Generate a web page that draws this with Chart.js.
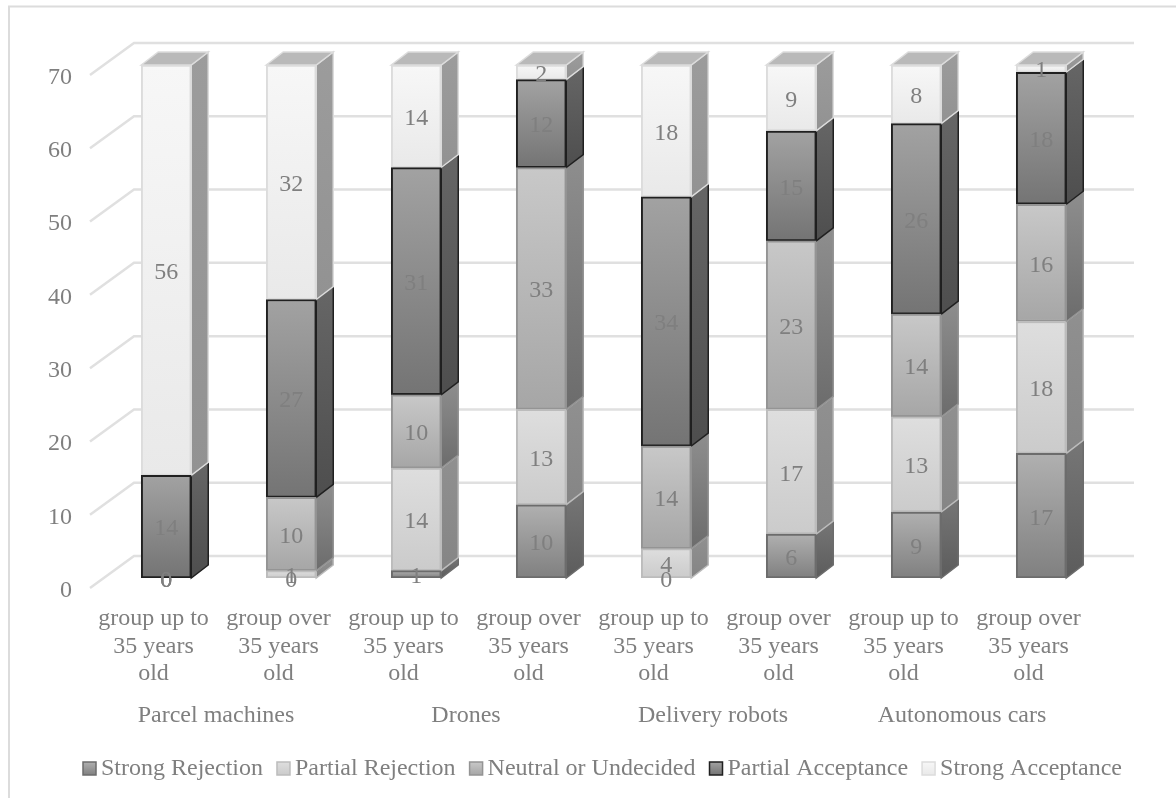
<!DOCTYPE html>
<html>
<head>
<meta charset="utf-8">
<style>html,body{margin:0;padding:0;background:#fff}canvas{display:block}</style>
<script src="https://cdn.jsdelivr.net/npm/chart.js@4/dist/chart.umd.min.js"></script>
</head>
<body>
<canvas id="c" width="1176" height="798"></canvas>
<script>
const categories = [
  ["group up to","35 years","old"],["group over","35 years","old"],
  ["group up to","35 years","old"],["group over","35 years","old"],
  ["group up to","35 years","old"],["group over","35 years","old"],
  ["group up to","35 years","old"],["group over","35 years","old"]
];
const groups = ["Parcel machines","Drones","Delivery robots","Autonomous cars"];
const groupCentres = [216,466,713,962];
const seriesNames = ["Strong Rejection","Partial Rejection","Neutral or Undecided","Partial Acceptance","Strong Acceptance"];
const strongRejection  = [0,0,1,10,0,6,9,17];
const partialRejection = [0,1,14,13,4,17,13,18];
const neutral          = [0,10,10,33,14,23,14,16];
const partialAcceptance= [14,27,31,12,34,15,26,18];
const strongAcceptance = [56,32,14,2,18,9,8,1];
const allSeries = [strongRejection,partialRejection,neutral,partialAcceptance,strongAcceptance];

const FRONT = [["#b0b0b0","#808080"],["#dedede","#cbcbcb"],["#c8c8c8","#a6a6a6"],["#a2a2a2","#747474"],["#f7f7f7","#e9e9e9"]];
const SIDE  = [["#767676","#5c5c5c"],["#909090","#858585"],["#8e8e8e","#6c6c6c"],["#666666","#4e4e4e"],["#9c9c9c","#929292"]];
const EDGE  = ["#6c6c6c","#bcbcbc","#949494","#202020","#dcdcdc"];
const TOPFACE = "#b9b9b9";
const TEXT = "#7f7f7f";
const FONT = "Liberation Serif";
const FS = 24;
const DEPTH_X = 17, DEPTH_Y = 13;      // bar extrusion
const SHIFT_X = 13.75, SHIFT_Y = 10;   // bars stand this far inside the floor
const WALL_X = 44, WALL_Y = 32;        // back wall offset
const TEXT_NUDGE = 2.5;                // em-box middle to digit middle

function grad(ctx, y0, y1, pair){
  const g = ctx.createLinearGradient(0,y0,0,y1);
  g.addColorStop(0,pair[0]); g.addColorStop(1,pair[1]);
  return g;
}
function segBounds(chart, s, i){
  let below = 0;
  for(let k=0;k<s;k++) below += allSeries[k][i];
  const y = chart.scales.y;
  return [y.getPixelForValue(below+allSeries[s][i]), y.getPixelForValue(below)];
}

const scene = {
  id:'scene',
  beforeDraw(chart){
    const c = chart.ctx;
    c.save();
    c.fillStyle='#fff'; c.fillRect(0,0,chart.width,chart.height);
    c.strokeStyle='#dcdcdc'; c.lineWidth=2;
    c.beginPath(); c.moveTo(9,798); c.lineTo(9,6.5); c.lineTo(1176,6.5); c.stroke();
    c.restore();
  },
  beforeDatasetsDraw(chart){
    const c = chart.ctx, ys = chart.scales.y, a = chart.chartArea;
    c.save();
    c.strokeStyle='#e0e0e0'; c.lineWidth=2.5;
    ys.ticks.forEach(t=>{
      const y = ys.getPixelForValue(t.value);
      c.beginPath(); c.moveTo(a.left,y); c.lineTo(a.left+WALL_X,y-WALL_Y); c.lineTo(a.right+WALL_X,y-WALL_Y); c.stroke();
    });
    c.restore();
    c.save();
    c.translate(SHIFT_X,-SHIFT_Y);
    chart.data.datasets.forEach((ds,s)=>{
      chart.getDatasetMeta(s).data.forEach((bar,i)=>{
        if(!allSeries[s][i]) return;
        const r = bar.x+bar.width/2, top = bar.y, base = bar.base, l = bar.x-bar.width/2;
        c.beginPath();
        c.moveTo(r,top); c.lineTo(r+DEPTH_X,top-DEPTH_Y); c.lineTo(r+DEPTH_X,base-DEPTH_Y); c.lineTo(r,base); c.closePath();
        c.fillStyle = grad(c,top-DEPTH_Y,base,SIDE[s]); c.fill();
        c.strokeStyle = EDGE[s]; c.lineWidth=1.5; c.stroke();
        let isTop = true;
        for(let k=s+1;k<allSeries.length;k++) if(allSeries[k][i]) isTop=false;
        if(isTop){
          c.beginPath();
          c.moveTo(l,top); c.lineTo(l+DEPTH_X,top-DEPTH_Y); c.lineTo(r+DEPTH_X,top-DEPTH_Y); c.lineTo(r,top); c.closePath();
          c.fillStyle = TOPFACE; c.fill();
          c.strokeStyle = EDGE[s]; c.lineWidth=1.5; c.stroke();
        }
      });
    });
  },
  afterDatasetsDraw(chart){
    const c = chart.ctx;
    c.restore();
    c.save();
    c.font = FS+'px "'+FONT+'"'; c.fillStyle = TEXT;
    c.textAlign='center'; c.textBaseline='middle';
    chart.data.datasets.forEach((ds,s)=>{
      chart.getDatasetMeta(s).data.forEach((bar,i)=>{
        const m = (bar.y+bar.base)/2;
        c.fillText(String(allSeries[s][i]), bar.x+SHIFT_X, m-SHIFT_Y+TEXT_NUDGE);
      });
    });
    c.textBaseline='alphabetic';
    groups.forEach((g,i)=> c.fillText(g, groupCentres[i], 722));
    // legend
    let x = 83; const by = 762, box = 13;
    c.textAlign='left';
    seriesNames.forEach((n,s)=>{
      c.fillStyle = grad(c,by,by+box,FRONT[s]);
      c.fillRect(x,by,box,box);
      c.strokeStyle = EDGE[s]; c.lineWidth=1.5;
      c.strokeRect(x,by,box,box);
      c.fillStyle = TEXT;
      c.fillText(n, x+box+5, 775);
      x += box+5+c.measureText(n).width+14;
    });
    c.restore();
  }
};

new Chart(document.getElementById('c'),{
  type:'bar',
  data:{
    labels:categories,
    datasets:seriesNames.map((name,s)=>({
      label:name,
      data:allSeries[s],
      barThickness:50,
      borderSkipped:false,
      borderWidth:ctx=>allSeries[s][ctx.dataIndex]?2:0,
      borderColor:EDGE[s],
      backgroundColor:ctx=>{
        const v = allSeries[s][ctx.dataIndex];
        if(!v || !ctx.chart.chartArea) return 'rgba(0,0,0,0)';
        const b = segBounds(ctx.chart,s,ctx.dataIndex);
        return grad(ctx.chart.ctx,b[0],b[1],FRONT[s]);
      }
    }))
  },
  options:{
    responsive:false,
    animation:false,
    events:[],
    layout:{padding:{top:75,right:86,left:0,bottom:0}},
    plugins:{legend:{display:false},tooltip:{enabled:false},title:{display:false}},
    scales:{
      x:{
        stacked:true,
        grid:{display:false,drawTicks:false},
        border:{display:false},
        afterFit(s){s.height=210;},
        ticks:{autoSkip:false,maxRotation:0,minRotation:0,padding:17,labelOffset:1,color:TEXT,
          font:{family:FONT,size:FS,lineHeight:1.15}}
      },
      y:{
        stacked:true,min:0,max:70,
        grid:{display:false,drawTicks:false},
        border:{display:false},
        afterFit(s){s.width=90;},
        ticks:{stepSize:10,padding:18,labelOffset:TEXT_NUDGE,color:TEXT,font:{family:FONT,size:FS}}
      }
    }
  },
  plugins:[scene]
});
</script>
</body>
</html>
